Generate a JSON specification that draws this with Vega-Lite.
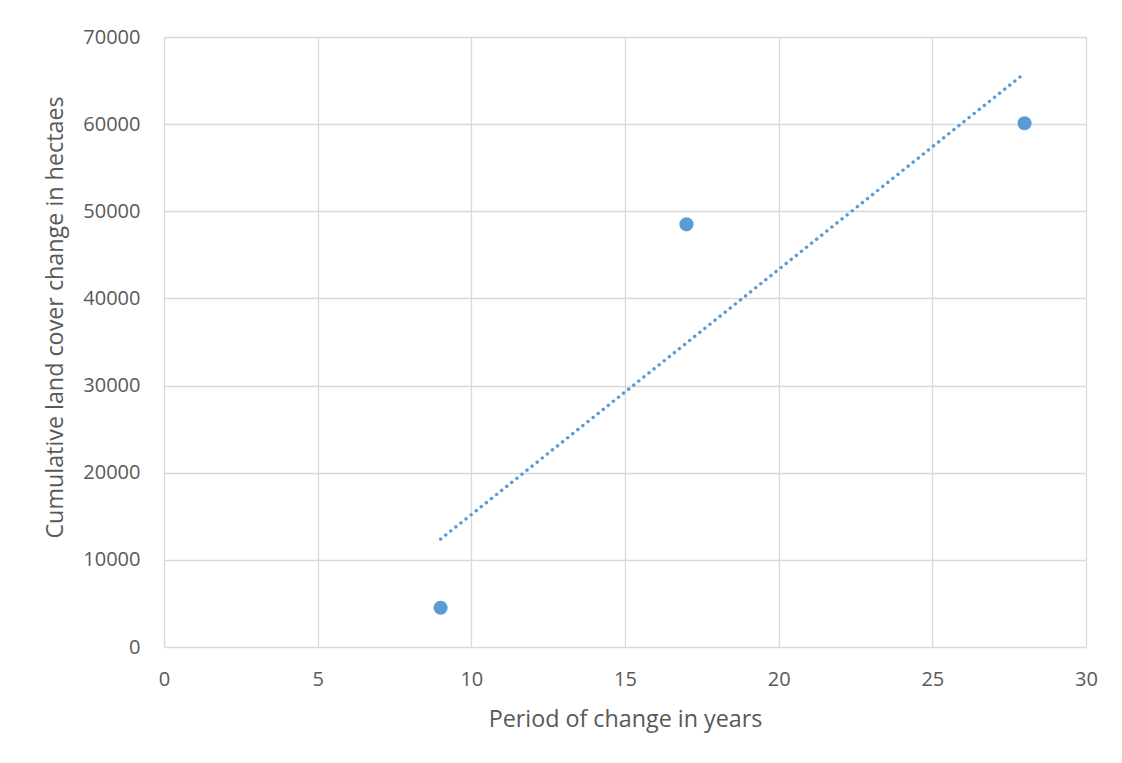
{
  "$schema": "https://vega.github.io/schema/vega-lite/v6.json",
  "width": 922,
  "height": 610,
  "autosize": {"type": "none"},
  "padding": {"left": 164, "top": 37, "right": 36, "bottom": 116},
  "background": "white",
  "config": {
    "view": {"stroke": null},
    "font": "Open Sans",
    "axis": {
      "domain": false,
      "ticks": false,
      "grid": true,
      "gridColor": "#d9d9d9",
      "gridWidth": 1.3,
      "labelColor": "#595959",
      "labelFontSize": 20,
      "labelFont": "Open Sans",
      "labelFlush": false,
      "labelOverlap": false,
      "titleColor": "#595959",
      "titleFontSize": 23.3,
      "titleFont": "Open Sans",
      "titleFontWeight": "normal"
    }
  },
  "data": {
    "values": [
      {"period": 9, "change": 4500},
      {"period": 17, "change": 48500},
      {"period": 28, "change": 60100}
    ]
  },
  "layer": [
    {
      "transform": [
        {"regression": "change", "on": "period", "extent": [9, 28]}
      ],
      "mark": {"type": "line", "color": "#5b9bd5", "strokeWidth": 3.4, "strokeCap": "round", "strokeDash": [0.1, 6.4]},
      "encoding": {
        "x": {"field": "period", "type": "quantitative"},
        "y": {"field": "change", "type": "quantitative"}
      }
    },
    {
      "mark": {"type": "circle", "color": "#5b9bd5", "opacity": 1, "size": 200},
      "encoding": {
        "x": {
          "field": "period", "type": "quantitative",
          "scale": {"domain": [0, 30], "nice": false},
          "axis": {"values": [0, 5, 10, 15, 20, 25, 30], "labelPadding": 22, "title": "Period of change in years", "titlePadding": 19}
        },
        "y": {
          "field": "change", "type": "quantitative",
          "scale": {"domain": [0, 70000], "nice": false},
          "axis": {"values": [0, 10000, 20000, 30000, 40000, 50000, 60000, 70000], "format": "d", "labelPadding": 24, "title": "Cumulative land cover change in hectaes", "titleX": -109, "titleY": 280, "titleAngle": -90, "titleAlign": "center", "titleBaseline": "middle"}
        }
      }
    }
  ]
}
